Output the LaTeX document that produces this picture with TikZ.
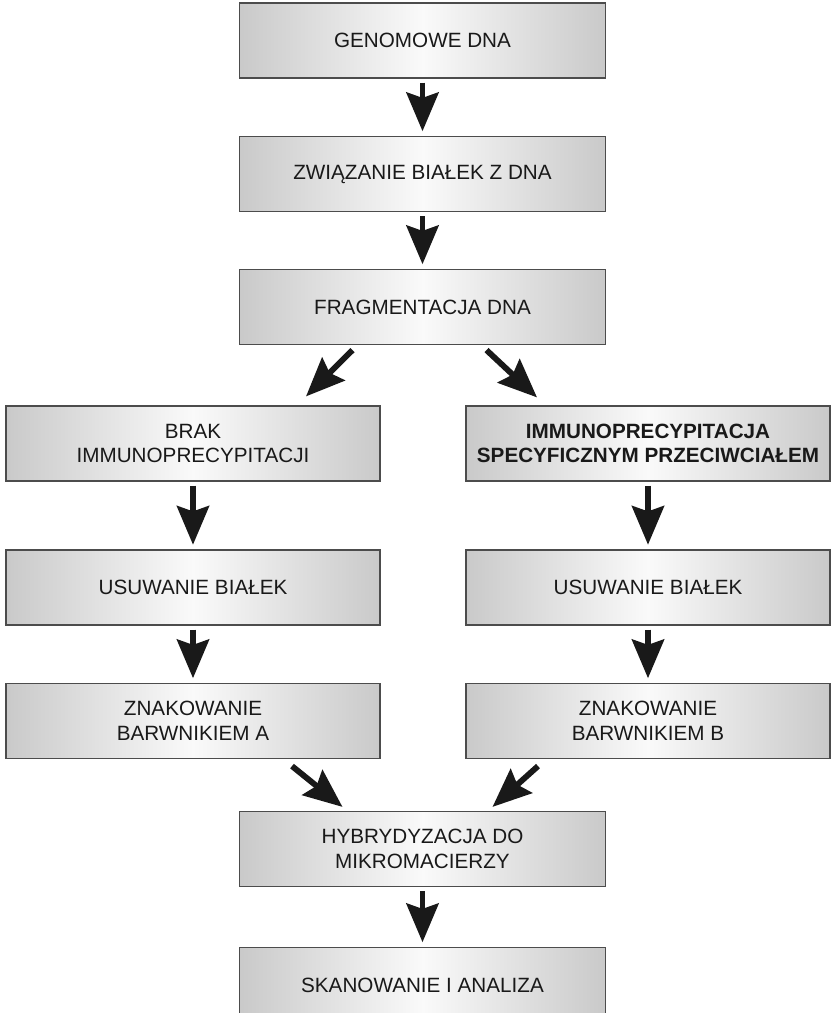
\documentclass[tikz,border=0pt]{standalone}
\usepackage{fontspec}
\setmainfont{Liberation Sans}
\usetikzlibrary{arrows.meta}
\usetikzlibrary{calc}

\begin{document}
\begin{tikzpicture}[x = 0.75pt, y = -0.75pt]
\tikzstyle{BoxStyle} = [shape = rectangle, draw = black!70, line width = 0.9pt, left color = black!21, right color = black!21, middle color = black!2, text = black!90, align = center, font = \fontsize{15.5}{18.5}\selectfont, inner sep = 0pt, minimum height = 56.25pt]
\tikzstyle{midStyle} = [BoxStyle, minimum width = 274pt]
\tikzstyle{leftStyle} = [BoxStyle, minimum width = 280.5pt]
\tikzstyle{rightStyle} = [BoxStyle, minimum width = 273pt]
\tikzstyle{boldStyle} = [font = \fontsize{15.5}{18.5}\selectfont\bfseries]
\tikzstyle{ArrowStyle} = [line width = 4.4pt, black!90, shorten < = 3pt, shorten > = 3.5pt, -{Stealth[length = 29pt, width = 24pt, inset = 4pt]}]
\tikzstyle{SlantStyle} = [line width = 4.4pt, black!90, -{Stealth[length = 29pt, width = 24pt, inset = 4pt]}]
\clip (0, 0) rectangle (834, 1013);
\node[midStyle] (b0) at (422.5, 40.5) {GENOMOWE DNA};
\node[midStyle] (b1) at (422.5, 174) {ZWIĄZANIE BIAŁEK Z DNA};
\node[midStyle] (b2) at (422.5, 307) {FRAGMENTACJA DNA};
\node[leftStyle] (b3) at (193, 443.5) {BRAK\\IMMUNOPRECYPITACJI};
\node[rightStyle, boldStyle] (b4) at (648, 443.5) {IMMUNOPRECYPITACJA\\SPECYFICZNYM PRZECIWCIAŁEM};
\node[leftStyle] (b5) at (193, 587.5) {USUWANIE BIAŁEK};
\node[rightStyle] (b6) at (648, 587.5) {USUWANIE BIAŁEK};
\node[leftStyle] (b7) at (193, 721) {ZNAKOWANIE\\BARWNIKIEM A};
\node[rightStyle] (b8) at (648, 721) {ZNAKOWANIE\\BARWNIKIEM B};
\node[midStyle] (b9) at (422.5, 849) {HYBRYDYZACJA DO\\MIKROMACIERZY};
\node[midStyle] (b10) at (422.5, 985) {SKANOWANIE I ANALIZA};
\draw[ArrowStyle] (b0) -- (b1);
\draw[ArrowStyle] (b1) -- (b2);
\draw[SlantStyle] ($(b2.south)+(-70, 5)$) -- ($(b3.north)+(113, -9)$);
\draw[SlantStyle] ($(b2.south)+(64, 5)$) -- ($(b4.north)+(-111, -8)$);
\draw[ArrowStyle] (b3) -- (b5);
\draw[ArrowStyle] (b4) -- (b6);
\draw[ArrowStyle] (b5) -- (b7);
\draw[ArrowStyle] (b6) -- (b8);
\draw[SlantStyle] ($(b7.south)+(99, 7)$) -- ($(b9.north)+(-80, -4)$);
\draw[SlantStyle] ($(b8.south)+(-110, 7)$) -- ($(b9.north)+(70, -4)$);
\draw[ArrowStyle] (b9) -- (b10);
\end{tikzpicture}
\end{document}
